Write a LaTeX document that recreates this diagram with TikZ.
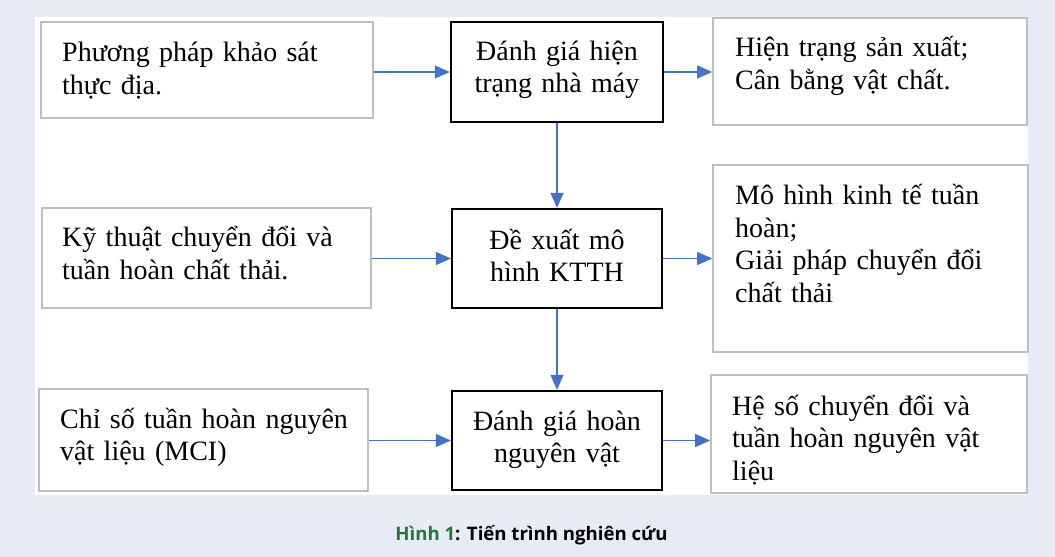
\documentclass[tikz,border=0pt]{standalone}
\usepackage{fontspec}
\setmainfont{Liberation Serif}
\newfontfamily\capfont{Open Sans}
\usetikzlibrary{arrows.meta}
\definecolor{bgc}{HTML}{E7EBF5}
\definecolor{gborder}{HTML}{BFBFBF}
\definecolor{arrc}{HTML}{4472C4}
\definecolor{capgreen}{HTML}{1E7A36}
\tikzset{
  gbox/.style={draw=gborder, line width=1.6bp, fill=white, inner sep=0pt},
  kbox/.style={draw=black, line width=2.3bp, fill=white, inner sep=0pt},
  arr/.style={draw=arrc, line width=1.2bp, -{Triangle[length=15bp,width=13bp]}},
  ltext/.style={anchor=base west, inner sep=0pt, text width=300bp, align=left,
    font=\fontsize{28bp}{32.5bp}\selectfont},
  ctext/.style={anchor=base, inner sep=0pt, text width=210bp, align=center,
    font=\fontsize{28bp}{32bp}\selectfont},
}
\begin{document}
\begin{tikzpicture}[x=1bp,y=-1bp]
\useasboundingbox (0,0) rectangle (1055,557);
\fill[bgc] (0,0) rectangle (1055,557);
\fill[white] (35,17) rectangle (1028,495);
% boxes
\node[gbox, minimum width=332bp, minimum height=96bp] (L1) at (207,70) {};
\node[kbox, minimum width=212bp, minimum height=100bp] (C1) at (557,72) {};
\node[gbox, minimum width=314bp, minimum height=107bp] (R1) at (870,71.5) {};
\node[gbox, minimum width=329bp, minimum height=100bp] (L2) at (206.5,258) {};
\node[kbox, minimum width=210bp, minimum height=99bp] (C2) at (557,258.5) {};
\node[gbox, minimum width=315bp, minimum height=187bp] (R2) at (870.5,258.5) {};
\node[gbox, minimum width=329bp, minimum height=102bp] (L3) at (203.5,440) {};
\node[kbox, minimum width=210bp, minimum height=99bp] (C3) at (557,440.5) {};
\node[gbox, minimum width=316bp, minimum height=118bp] (R3) at (869,434) {};
% texts
\node[ltext] (tL1) at (62,62) {Phương pháp khảo sát\\thực địa.};
\node[ctext] (tC1) at (557,61) {Đánh giá hiện\\trạng nhà máy};
\node[ltext] (tR1) at (735,57) {Hiện trạng sản xuất;\\Cân bằng vật chất.};
\node[ltext] (tL2) at (62,247) {Kỹ thuật chuyển đổi và\\tuần hoàn chất thải.};
\node[ctext] (tC2) at (557,250) {Đề xuất mô\\hình KTTH};
\node[ltext] (tR2) at (735,205) {Mô hình kinh tế tuần\\hoàn;\\Giải pháp chuyển đổi\\chất thải};
\node[ltext] (tL3) at (60,428) {Chỉ số tuần hoàn nguyên\\vật liệu (MCI)};
\node[ctext] (tC3) at (557,430) {Đánh giá hoàn\\nguyên vật};
\node[ltext] (tR3) at (732,415) {Hệ số chuyển đổi và\\tuần hoàn nguyên vật\\liệu};
% arrows
\draw[arr] (C1.west -| L1.east) -- (C1.west);
\draw[arr] (C1.east) -- (C1.east -| R1.west);
\draw[arr] (C1.south) -- (C2.north);
\draw[arr] (C2.west -| L2.east) -- (C2.west);
\draw[arr] (C2.east) -- (C2.east -| R2.west);
\draw[arr] (C2.south) -- (C3.north);
\draw[arr] (C3.west -| L3.east) -- (C3.west);
\draw[arr] (C3.east) -- (C3.east -| R3.west);
% caption
\node[anchor=base, inner sep=0pt, font=\capfont\bfseries\fontsize{18.6bp}{20bp}\selectfont] (cap) at (531.5,540)
  {\textcolor{capgreen}{Hình 1}: Tiến trình nghiên cứu};
\end{tikzpicture}
\end{document}
